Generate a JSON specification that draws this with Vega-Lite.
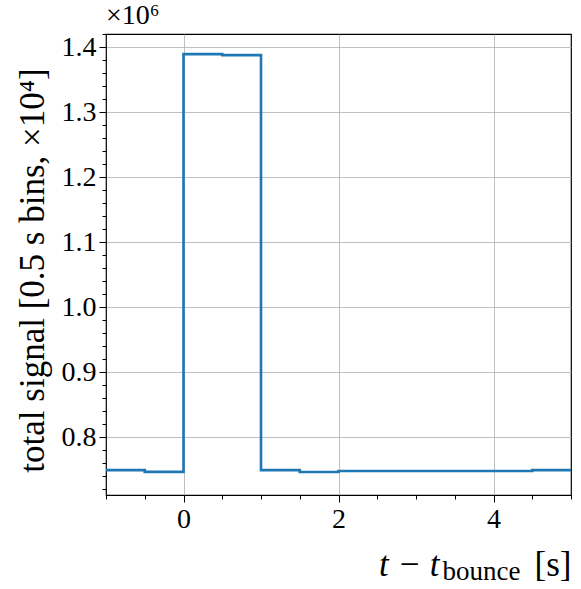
{
  "$schema": "https://vega.github.io/schema/vega-lite/v6.json",
  "width": 465,
  "height": 461,
  "autosize": {"type": "none"},
  "padding": {"left": 106, "top": 34, "right": 10, "bottom": 94},
  "background": "white",
  "config": {
    "view": {"stroke": "black", "strokeWidth": 1.2},
    "font": "Liberation Serif",
    "axis": {"labelFont": "Liberation Serif", "titleFont": "Liberation Serif", "labelColor": "black", "titleColor": "black", "tickColor": "black", "domain": false, "titleFontWeight": "normal"}
  },
  "title": {"text": "×10⁶", "anchor": "start", "frame": "group", "fontSize": 28, "fontWeight": "normal", "font": "Liberation Serif", "offset": 3, "color": "black"},
  "data": {"values": [
    {"t": -1, "signal": 749200},
    {"t": -0.5, "signal": 746500},
    {"t": 0, "signal": 1389000},
    {"t": 0.5, "signal": 1387500},
    {"t": 1, "signal": 749200},
    {"t": 1.5, "signal": 746300},
    {"t": 2, "signal": 747800},
    {"t": 2.5, "signal": 747800},
    {"t": 3, "signal": 747800},
    {"t": 3.5, "signal": 747800},
    {"t": 4, "signal": 747800},
    {"t": 4.5, "signal": 749200},
    {"t": 5, "signal": 749200}
  ]},
  "layer": [
    {
      "mark": {"type": "line", "interpolate": "step-after", "color": "#1f77b4", "strokeWidth": 2.6},
      "encoding": {
        "x": {"field": "t", "type": "quantitative", "scale": {"domain": [-1, 5], "nice": false, "zero": false},
          "axis": {"orient": "bottom", "values": [0, 2, 4], "grid": true, "gridColor": "#b0b0b0", "gridWidth": 0.8, "tickSize": 7, "tickWidth": 1, "labelFont": "Liberation Serif", "labelFontSize": 28, "labelPadding": 3, "format": "d",
            "title": "t − t", "titleFont": "Liberation Serif", "titleFontSize": 35, "titleFontStyle": "italic", "titleAlign": "right", "titleX": 333, "titleY": 80, "titleBaseline": "alphabetic"}},
        "y": {"field": "signal", "type": "quantitative", "scale": {"domain": [711000, 1420000], "nice": false, "zero": false},
          "axis": {"orient": "left", "values": [800000, 900000, 1000000, 1100000, 1200000, 1300000, 1400000], "labelExpr": "format(datum.value/1000000, '.1f')", "grid": true, "gridColor": "#b0b0b0", "gridWidth": 0.8, "tickSize": 7, "tickWidth": 1, "labelFont": "Liberation Serif", "labelFontSize": 28, "labelPadding": 3,
            "title": "total signal [0.5 s bins, ×10⁴]", "titleFont": "Liberation Serif", "titleFontSize": 35, "titleX": -74, "titleY": 236, "titleAngle": -90, "titleBaseline": "middle", "titleAlign": "center"}}
      }
    },
    {
      "mark": {"type": "point", "opacity": 0},
      "encoding": {
        "x": {"field": "t", "type": "quantitative", "scale": {"domain": [-1, 5], "nice": false, "zero": false},
          "axis": {"orient": "bottom", "values": [-1, -0.5, 0, 0.5, 1, 1.5, 2, 2.5, 3, 3.5, 4, 4.5, 5], "grid": false, "labels": false, "tickSize": 4, "tickWidth": 1,
            "title": "bounce", "titleFont": "Liberation Serif", "titleFontSize": 27, "titleAlign": "left", "titleX": 336, "titleY": 84, "titleBaseline": "alphabetic"}},
        "y": {"field": "signal", "type": "quantitative", "scale": {"domain": [711000, 1420000], "nice": false, "zero": false},
          "axis": {"orient": "left", "values": [720000, 740000, 760000, 780000, 800000, 820000, 840000, 860000, 880000, 900000, 920000, 940000, 960000, 980000, 1000000, 1020000, 1040000, 1060000, 1080000, 1100000, 1120000, 1140000, 1160000, 1180000, 1200000, 1220000, 1240000, 1260000, 1280000, 1300000, 1320000, 1340000, 1360000, 1380000, 1400000, 1420000], "grid": false, "labels": false, "tickSize": 4, "tickWidth": 1, "title": null}}
      }
    },
    {
      "mark": {"type": "point", "opacity": 0},
      "encoding": {
        "x": {"field": "t", "type": "quantitative", "scale": {"domain": [-1, 5], "nice": false, "zero": false},
          "axis": {"orient": "bottom", "grid": false, "labels": false, "ticks": false, "domain": false,
            "title": "[s]", "titleFont": "Liberation Serif", "titleFontSize": 35, "titleAlign": "right", "titleX": 465, "titleY": 80, "titleBaseline": "alphabetic"}}
      }
    }
  ],
  "resolve": {"axis": {"x": "independent", "y": "independent"}}
}
